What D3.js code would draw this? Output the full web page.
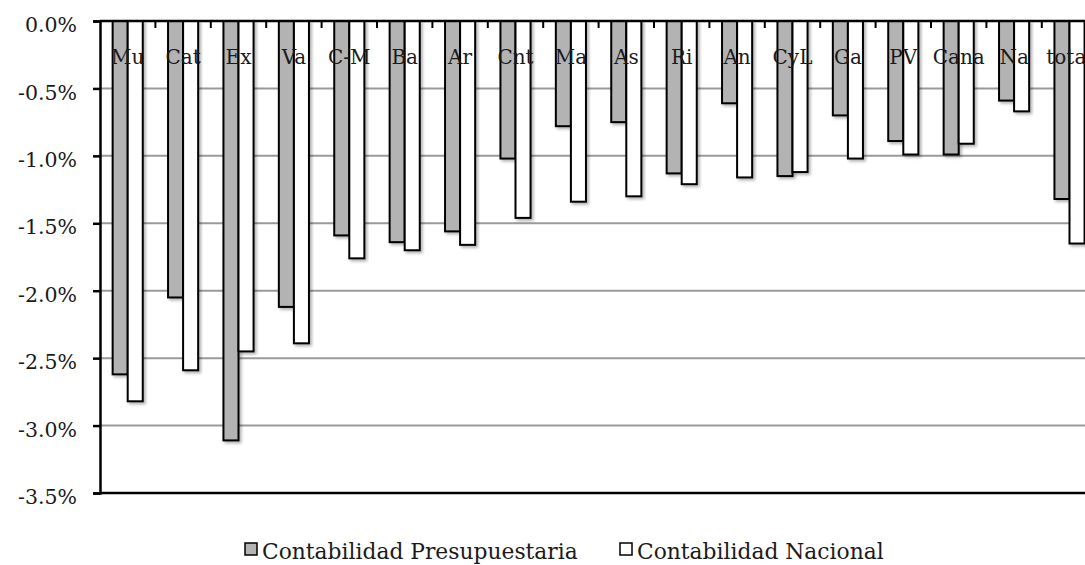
<!DOCTYPE html>
<meta charset="utf-8">
<title>Contabilidad Presupuestaria vs Nacional</title>
<style>
  body { margin: 0; background: #fff; }
  text { font-family: "DejaVu Serif", "Liberation Serif", serif; fill: #1a1a1a; }
  .grid line { stroke: #9a9a9a; stroke-width: 2px; }
  .bar { stroke: #000; stroke-width: 2px; }
</style>
<body>
<svg width="1085" height="565"></svg>
<script src="https://d3js.org/d3.v7.min.js"></script>
<script>
  // regions (categories)
  var regions = ["Mu", "Cat", "Ex", "Va", "C-M", "Ba", "Ar", "Cnt", "Ma", "As", "Ri", "An", "CyL", "Ga", "PV", "Cana", "Na", "total"];
  // deficit, % of GDP
  var presupuestaria = [-2.62, -2.05, -3.11, -2.12, -1.59, -1.64, -1.56, -1.02, -0.78, -0.75, -1.13, -0.61, -1.15, -0.70, -0.89, -0.99, -0.59, -1.32];
  var nacional = [-2.82, -2.59, -2.45, -2.39, -1.76, -1.70, -1.66, -1.46, -1.34, -1.30, -1.21, -1.16, -1.12, -1.02, -0.99, -0.91, -0.67, -1.65];
  var series = ["Contabilidad Presupuestaria", "Contabilidad Nacional"];
  var colors = ["#b3b3b3", "#ffffff"];
  var yTicks = [0, -0.5, -1.0, -1.5, -2.0, -2.5, -3.0, -3.5];

  const svg = d3.select("svg");
  const mLeft = 100, mTop = 21, mBottom = 493;
  const step = 55.4;

  // drop shadow like the original
  var defs = svg.append("defs");
  defs.append("filter").attr("id", "shadow")
    .attr("x", "-30%").attr("y", "-10%").attr("width", "160%").attr("height", "130%")
    .append("feDropShadow")
    .attr("dx", 2).attr("dy", 2).attr("stdDeviation", 1.5)
    .attr("flood-color", "#000").attr("flood-opacity", 0.3);

  var x = d3.scaleBand().domain(regions).range([mLeft, mLeft + step * regions.length]);
  var x1 = d3.scaleBand().domain(series).range([0, x.bandwidth()]).paddingOuter(0.84);
  var y = d3.scaleLinear().domain([0, -3.5]).range([mTop, mBottom]);

  // gridlines
  svg.append("g").attr("class", "grid")
    .selectAll("line").data(yTicks.slice(1, -1)).enter().append("line")
    .attr("x1", mLeft).attr("x2", 1085)
    .attr("y1", d => y(d)).attr("y2", d => y(d));

  // bars
  var data = [];
  regions.forEach(function (r, i) {
    data.push({ region: r, s: series[0], v: presupuestaria[i], c: colors[0] });
    data.push({ region: r, s: series[1], v: nacional[i], c: colors[1] });
  });
  svg.append("g").selectAll("rect").data(data).enter().append("rect")
    .attr("class", "bar")
    .attr("filter", "url(#shadow)")
    .attr("x", d => x(d.region) + x1(d.s))
    .attr("width", x1.bandwidth())
    .attr("y", y(0))
    .attr("height", d => y(d.v) - y(0))
    .attr("fill", d => d.c);

  // bottom border line
  svg.append("line")
    .attr("x1", mLeft).attr("x2", 1085)
    .attr("y1", y(-3.5)).attr("y2", y(-3.5))
    .attr("stroke", "#000").attr("stroke-width", 2.5);

  // y axis (plain hyphen as minus sign, like the original)
  var fmt = d => (d < 0 ? "-" : "") + Math.abs(d).toFixed(1) + "%";
  var yAxis = svg.append("g")
    .attr("transform", "translate(" + mLeft + ",0)")
    .attr("font-family", "DejaVu Serif")
    .call(d3.axisLeft(y).tickValues(yTicks).tickFormat(fmt).tickSize(7).tickPadding(16));
  yAxis.selectAll("text")
    .attr("dy", "0.52em")
    .style("font-size", "20.5px").attr("fill", "#1a1a1a");
  yAxis.selectAll("line").attr("stroke", "#000").attr("stroke-width", 2.5);
  yAxis.select(".domain").attr("stroke", "#000").attr("stroke-width", 2.5);

  // x axis at zero, ticks pointing into plot
  var xAxisG = svg.append("g").attr("transform", "translate(0," + y(0) + ")");
  xAxisG.append("line")
    .attr("x1", mLeft).attr("x2", 1085)
    .attr("stroke", "#000").attr("stroke-width", 2.5);
  xAxisG.selectAll(".tk").data(regions.slice(1)).enter().append("line")
    .attr("class", "tk")
    .attr("x1", d => x(d)).attr("x2", d => x(d))
    .attr("y1", 0).attr("y2", 7)
    .attr("stroke", "#000").attr("stroke-width", 2);
  xAxisG.selectAll("text").data(regions).enter().append("text")
    .attr("x", d => x(d) + x.bandwidth() / 2)
    .attr("y", 43)
    .attr("text-anchor", "middle")
    .style("font-size", "20px")
    .text(d => d);

  // legend
  var legend = svg.append("g");
  var lx = [245, 620];
  series.forEach(function (s, i) {
    legend.append("rect")
      .attr("x", lx[i]).attr("y", 543).attr("width", 12).attr("height", 12)
      .attr("fill", colors[i]).attr("stroke", "#000").attr("stroke-width", 1.5);
    legend.append("text")
      .attr("x", lx[i] + 17).attr("y", 559)
      .style("font-size", "21.8px")
      .text(s);
  });
</script>
</body>
